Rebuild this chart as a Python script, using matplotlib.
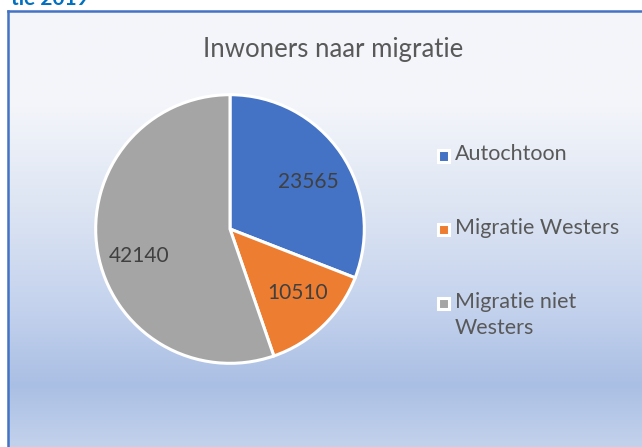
import numpy as np
import matplotlib
matplotlib.use('Agg')
import matplotlib.pyplot as plt
from matplotlib.colors import LinearSegmentedColormap
from matplotlib.patches import Rectangle

# Data
labels = ['Autochtoon', 'Migratie Westers', 'Migratie niet\nWesters']
values = [23565, 10510, 42140]
colors = ['#4472C4', '#ED7D31', '#A5A5A5']
# label spots inside the slices (axes data units)
label_pos = [(0.58, 0.35), (0.506, -0.477), (-0.678, -0.201)]

plt.rcParams['font.family'] = ['Lato', 'DejaVu Sans']

W, H = 642, 447
fig = plt.figure(figsize=(W / 100, H / 100), dpi=100, facecolor='white')

# chart area background with vertical gradient
bx0, by_top = 8, 11
bg = fig.add_axes([bx0 / W, 0, 1 - bx0 / W, (H - by_top) / H])
grad = LinearSegmentedColormap.from_list('bg', [
    (0.0, '#F5F6FA'), (0.22, '#F3F5FA'), (0.45, '#DDE5F3'),
    (0.68, '#C4D2ED'), (0.86, '#AABFE4'), (1.0, '#C3D2EC')])
bg.imshow(np.linspace(0, 1, 256).reshape(-1, 1), aspect='auto', cmap=grad,
          extent=[0, 1, 0, 1], origin='upper')
bg.set_xlim(0, 1)
bg.set_ylim(0, 1)
bg.set_xticks([])
bg.set_yticks([])
for s in ['right', 'bottom']:
    bg.spines[s].set_visible(False)
for s in ['left', 'top']:
    bg.spines[s].set_color('#4472C4')
    bg.spines[s].set_linewidth(1.8)

# heading above the chart, cut off by the top edge like the screenshot
fig.text(11 / W, 1 - 5 / H, 'tie 2019', color='#0070C0', fontsize=15,
         fontweight='bold', ha='left', va='baseline')

# pie
cx, cy, r = 230, 229, 137
ax = fig.add_axes([(cx - r) / W, (H - cy - r) / H, 2 * r / W, 2 * r / H])
wedges, texts = ax.pie(
    values, colors=colors, startangle=90, counterclock=False, radius=1,
    wedgeprops=dict(edgecolor='white', linewidth=2.2))
for v, (px, py) in zip(values, label_pos):
    ax.text(px, py, str(v), color='#404040', fontsize=15,
            ha='center', va='center')
ax.set_xlim(-1.02, 1.02)
ax.set_ylim(-1.02, 1.02)
ax.set_aspect('equal')
ax.axis('off')

fig.text(333 / W, 1 - 57 / H, 'Inwoners naar migratie', color='#595959',
         fontsize=18.5, ha='center', va='baseline')

# legend, drawn by hand so the marker sits on the first line
ly0, lstep = 156, 73.5
for i, (lab, col) in enumerate(zip(labels, colors)):
    y = ly0 + i * lstep
    fig.patches.append(Rectangle((438 / W, 1 - (y + 5.5) / H), 11 / W, 11 / H,
                                 transform=fig.transFigure,
                                 facecolor=col, edgecolor='white', lw=2.2))
    fig.text(455 / W, 1 - (y - 11.5) / H, lab, color='#595959', fontsize=15.5,
             ha='left', va='top', linespacing=1.4)

fig.savefig('out.png', dpi=100, facecolor='white')
